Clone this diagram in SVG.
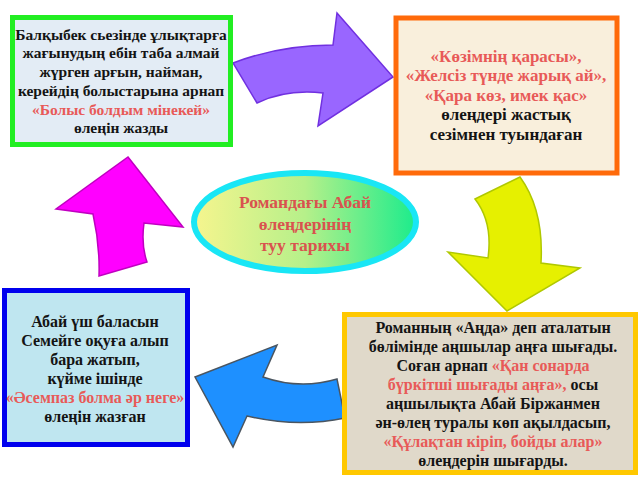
<svg xmlns="http://www.w3.org/2000/svg" width="640" height="480" viewBox="0 0 640 480">
<defs>
<style>
text{font-family:"Liberation Serif","Times New Roman",serif;font-weight:bold;font-size:16px;fill:#141414;text-anchor:middle}
.g text{font-size:15.5px}
.o text{font-size:17px}
.r{fill:#e85a58}
.et{fill:#d9534f;font-size:17.5px}
.box{stroke-width:5}
.arr{stroke-width:1.5;stroke-linejoin:miter}
</style>
<linearGradient id="eg" x1="0" y1="0" x2="1" y2="0">
<stop offset="0" stop-color="#f6f58e"/>
<stop offset="0.5" stop-color="#b6f08a"/>
<stop offset="1" stop-color="#1cec8c"/>
</linearGradient>
</defs>
<rect width="640" height="480" fill="#ffffff"/>
<g id="connectors">
<path class="arr" fill="#9966ff" stroke="#7030e0" d="M233,63 Q280,45 333,45 L337,13 L393,77 L318,126 L323,93 Q286,89 257,103 Z"/>
<path class="arr" fill="#e6f000" stroke="#b0c800" d="M475,199 L520,177 Q544,210 541,263 L580,268 L507,311 L448,252 L488,258 Q493,222 475,199 Z"/>
<path class="arr" fill="#1e90ff" stroke="#4a5560" d="M195,377 L277,345 L263,377 Q300,390 337,379 L345,418 Q297,428 247,416 L233,447 Z"/>
<path class="arr" fill="#ff00ff" stroke="#c000c0" d="M128,157 L183,227 L144,223 Q141,245 147,262 L99,276 Q100,245 93,214 L56,209 Z"/>
</g>
<g id="node-top-left" class="g">
<rect class="box" x="12.5" y="17.5" width="218" height="127" fill="#e3ecf5" stroke="#22ee22"/>
<text x="121" y="40">Балқыбек сьезінде ұлықтарға</text>
<text x="121" y="58">жағынудың ебін таба алмай</text>
<text x="121" y="77">жүрген арғын, найман,</text>
<text x="121" y="96">керейдің болыстарына арнап</text>
<text x="121" y="115" class="r">«Болыс болдым мінекей»</text>
<text x="121" y="133">өлеңін жазды</text>
</g>
<g id="node-top-right" class="o">
<rect class="box" x="396" y="18" width="221" height="155" fill="#f9efdc" stroke="#ff6a0a"/>
<text x="506" y="62" class="r">«Көзімнің қарасы»,</text>
<text x="506" y="81" class="r">«Желсіз түнде жарық ай»,</text>
<text x="506" y="101" class="r">«Қара көз, имек қас»</text>
<text x="506" y="120">өлеңдері жастық</text>
<text x="506" y="140">сезімнен туындаған</text>
</g>
<g id="node-center">
<ellipse cx="305" cy="222" rx="111" ry="49" fill="url(#eg)" stroke="#19e6f5" stroke-width="6"/>
<text x="305" y="208" class="et">Романдағы Абай</text>
<text x="305" y="230" class="et">өлеңдерінің</text>
<text x="305" y="251" class="et">туу тарихы</text>
</g>
<g id="node-bottom-left">
<rect class="box" x="4.5" y="290.5" width="183" height="154" fill="#bfe6f0" stroke="#0000ee"/>
<text x="95" y="327">Абай үш баласын</text>
<text x="95" y="346">Семейге оқуға алып</text>
<text x="95" y="365">бара жатып,</text>
<text x="95" y="384">күйме ішінде</text>
<text x="95" y="403" class="r">«Әсемпаз болма әр неге»</text>
<text x="95" y="422">өлеңін жазған</text>
</g>
<g id="node-bottom-right">
<rect class="box" x="344.5" y="314.5" width="291" height="158" fill="#e0d9ca" stroke="#ffc800"/>
<text x="493" y="333">Романның «Аңда» деп аталатын</text>
<text x="493" y="352">бөлімінде аңшылар аңға шығады.</text>
<text x="493" y="371">Соған арнап <tspan class="r">«Қан сонарда</tspan></text>
<text x="493" y="390"><tspan class="r">бүркітші шығады аңға»,</tspan> осы</text>
<text x="493" y="409">аңшылықта Абай Біржанмен</text>
<text x="493" y="428">ән-өлең туралы көп ақылдасып,</text>
<text x="493" y="447" class="r">«Құлақтан кіріп, бойды алар»</text>
<text x="493" y="466">өлеңдерін шығарды.</text>
</g>
</svg>
